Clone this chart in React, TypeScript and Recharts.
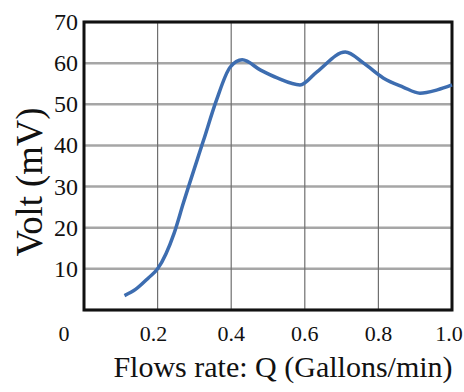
import { LineChart, Line, XAxis, YAxis, CartesianGrid, ReferenceArea } from 'recharts';

const flowQ = [0.11, 0.14, 0.175, 0.2, 0.245, 0.27, 0.325, 0.36, 0.397, 0.43, 0.48, 0.525, 0.587, 0.633, 0.71, 0.76, 0.813, 0.867, 0.913, 0.96, 1.0];
const voltMv = [3.5, 5.0, 7.8, 10, 18.7, 26, 41.3, 51, 59, 60.8, 58.3, 56.4, 54.7, 57.9, 62.7, 60, 56.4, 54.2, 52.7, 53.5, 54.7];
const xTicks = [0, 0.2, 0.4, 0.6, 0.8, 1.0];
const yTicks = [10, 20, 30, 40, 50, 60, 70];

const data = flowQ.map((q, i) => ({ q, v: voltMv[i] }));

const FONT = '"Liberation Serif", "Times New Roman", serif';

const XTick = (props: any) => {
  const { x, y, payload } = props;
  const val = payload.value;
  const shift = val === 0 ? -20 : val === 1 ? -3 : val === 0.2 ? -4 : 0;
  const text = val === 0 ? '0' : val.toFixed(1);
  return (
    <text x={x + shift} y={y + 31} textAnchor="middle" fontSize={22} fontFamily={FONT} fill="#111">
      {text}
    </text>
  );
};

const YTick = (props: any) => {
  const { x, y, payload } = props;
  return (
    <text x={x - 6} y={y + 8} textAnchor="end" fontSize={24} fontFamily={FONT} fill="#111">
      {payload.value}
    </text>
  );
};

export default function App() {
  return (
    <div style={{ position: 'absolute', left: 0, top: 0, width: 464, height: 392, background: '#fff' }}>
      <LineChart width={464} height={392} data={data} margin={{ top: 22, right: 12, left: 0, bottom: 0 }}>
        <CartesianGrid vertical={false} stroke="#a6a6a6" strokeWidth={2.5} />
        <CartesianGrid horizontal={false} stroke="#6f6f6f" strokeWidth={1.2} />
        <XAxis
          dataKey="q"
          type="number"
          domain={[0, 1]}
          ticks={xTicks}
          height={82}
          tickSize={0}
          tickMargin={0}
          axisLine={false}
          tickLine={false}
          tick={<XTick />}
          label={{
            content: () => (
              <text x={283} y={377} textAnchor="middle" fontSize={30} fontFamily={FONT} fill="#111">
                Flows rate: Q (Gallons/min)
              </text>
            ),
          }}
        />
        <YAxis
          type="number"
          domain={[0, 70]}
          ticks={yTicks}
          width={84}
          tickSize={0}
          tickMargin={0}
          axisLine={false}
          tickLine={false}
          tick={<YTick />}
          label={{
            content: () => (
              <text
                x={42}
                y={182}
                transform="rotate(-90 42 182)"
                textAnchor="middle"
                fontSize={38}
                textLength={149}
                lengthAdjust="spacingAndGlyphs"
                fontFamily={FONT}
                fill="#111"
              >
                Volt (mV)
              </text>
            ),
          }}
        />
        <ReferenceArea x1={0} x2={1} y1={0} y2={70} fill="none" stroke="#111" strokeWidth={3} />
        <Line
          type="monotone"
          dataKey="v"
          stroke="#3d6db0"
          strokeWidth={3.5}
          dot={false}
          isAnimationActive={false}
        />
      </LineChart>
    </div>
  );
}
